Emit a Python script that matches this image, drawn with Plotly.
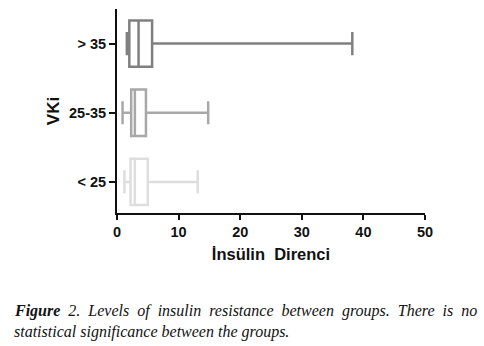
import plotly.graph_objects as go

groups = ["< 25", "25-35", "> 35"]
tick_labels = ["&lt; 25", "25-35", "&gt; 35"]
lower = [1.2, 0.9, 1.6]
q1 = [2.2, 2.3, 2.0]
median = [2.9, 2.9, 3.5]
q3 = [5.0, 4.7, 5.7]
upper = [13.1, 14.8, 38.2]
colors = ["#dedede", "#a8a8a8", "#808080"]

fig = go.Figure()
for i, g in enumerate(groups):
    fig.add_trace(go.Box(
        y=[g], lowerfence=[lower[i]], q1=[q1[i]], median=[median[i]],
        q3=[q3[i]], upperfence=[upper[i]], orientation="h",
        fillcolor="white", line=dict(color=colors[i], width=2.5),
        width=0.67, whiskerwidth=0.5, boxpoints=False, showlegend=False,
    ))

axis_font = dict(family="Liberation Sans", size=14.5, color="#111111", weight="bold")
fig.update_layout(
    width=484, height=346,
    margin=dict(l=117, r=59, t=9, b=133),
    paper_bgcolor="white", plot_bgcolor="white",
    xaxis=dict(range=[0, 50], tickvals=[0, 10, 20, 30, 40, 50],
               showline=True, linecolor="#111111", linewidth=2,
               ticks="outside", ticklen=5, tickwidth=2, tickcolor="#111111",
               showgrid=False, zeroline=False, tickfont=axis_font,
               title=dict(text="İnsülin  Direnci", standoff=9,
                          font=dict(family="Liberation Sans", size=16.5, color="#111111", weight="bold"))),
    yaxis=dict(categoryorder="array", categoryarray=groups,
               tickvals=groups, ticktext=tick_labels, range=[-0.45, 2.5],
               showline=True, linecolor="#111111", linewidth=2,
               ticks="outside", ticklen=6, tickwidth=2, tickcolor="#111111",
               showgrid=False, zeroline=False, tickfont=axis_font,
               title=dict(text="VKi", standoff=5,
                          font=dict(family="Liberation Sans", size=17, color="#111111", weight="bold"))),
)

cap_font = dict(family="Liberation Serif", size=16, color="#111111")
line1_words = ["<b>Figure</b>", "2.", "Levels", "of", "insulin", "resistance", "between",
               "groups.", "There", "is", "no"]
line1 = " \u00a0".join(line1_words)
fig.add_annotation(xref="paper", yref="paper", x=-0.341, y=-0.48, xanchor="left", yanchor="middle",
                   text="<i>" + line1 + "</i>",
                   showarrow=False, font=cap_font)
fig.add_annotation(xref="paper", yref="paper", x=-0.341, y=-0.584, xanchor="left", yanchor="middle",
                   text="<i>statistical significance between the groups.</i>",
                   showarrow=False, font=cap_font)

fig.write_html("out.html")
